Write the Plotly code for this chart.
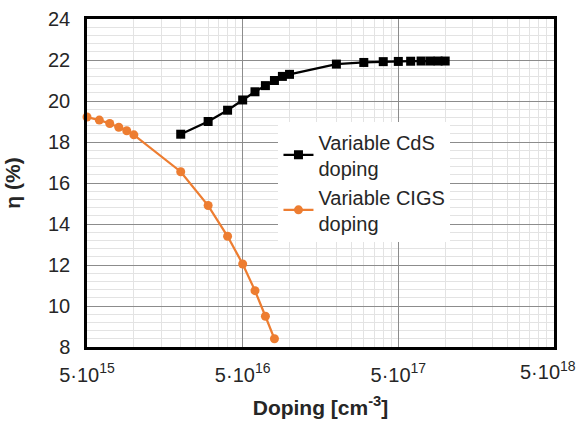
import math
import plotly.graph_objects as go

# Efficiency vs. doping for two buffer/absorber doping sweeps
cds_doping = [2e16, 3e16, 4e16, 5e16, 6e16, 7e16, 8e16, 9e16, 1e17,
              2e17, 3e17, 4e17, 5e17, 6e17, 7e17, 8e17, 9e17, 1e18]
cds_eta = [18.38, 19.0, 19.55, 20.05, 20.45, 20.75, 21.0, 21.2, 21.3,
           21.8, 21.88, 21.92, 21.93, 21.94, 21.95, 21.95, 21.95, 21.95]

cigs_doping = [5e15, 6e15, 7e15, 8e15, 9e15, 1e16, 2e16, 3e16, 4e16,
               5e16, 6e16, 7e16, 8e16]
cigs_eta = [19.22, 19.07, 18.9, 18.72, 18.55, 18.35, 16.55, 14.9, 13.4,
            12.05, 10.75, 9.5, 8.4]

x_tick_vals = [5e15, 5e16, 5e17, 5e18]
x_tick_text = ["5·10<sup>15</sup>", "5·10<sup>16</sup>",
               "5·10<sup>17</sup>", "5·10<sup>18</sup>"]
y_tick_vals = [8, 10, 12, 14, 16, 18, 20, 22, 24]

# minor grid: multiples of each major value within its decade
x_minor_vals = [v * k for v in x_tick_vals[:-1] for k in range(2, 10)]

# small pad so the end ticks stay inside the range
x_range = [math.log10(x_tick_vals[0]) - 1e-6, math.log10(x_tick_vals[-1]) + 1e-6]

FONT = "Arial, Liberation Sans, sans-serif"
TEXT = "#262626"
ORANGE = "#ED7D31"

fig = go.Figure()
fig.add_trace(go.Scatter(
    x=cds_doping, y=cds_eta, mode="lines+markers",
    name="Variable CdS<br>doping",
    line=dict(color="black", width=2.25),
    marker=dict(symbol="square", size=9, color="black"),
    cliponaxis=False,
))
fig.add_trace(go.Scatter(
    x=cigs_doping, y=cigs_eta, mode="lines+markers",
    name="Variable CIGS<br>doping",
    line=dict(color=ORANGE, width=2.25),
    marker=dict(symbol="circle", size=9, color=ORANGE),
    cliponaxis=False,
))

# the last tick label sits at the right edge; draw it right-aligned so it fits
fig.add_annotation(
    x=math.log10(x_tick_vals[-1]), xref="x", y=0, yref="paper",
    text=x_tick_text[-1], showarrow=False,
    xanchor="right", yanchor="top", xshift=24, yshift=-9,
    font=dict(family=FONT, size=20, color=TEXT),
)

fig.update_layout(
    width=580, height=423,
    margin=dict(l=87, r=26, t=19, b=76),
    paper_bgcolor="white", plot_bgcolor="white",
    font=dict(family=FONT, size=20, color=TEXT),
    legend=dict(
        x=0.41, y=0.685, xanchor="left", yanchor="top",
        bgcolor="white", borderwidth=0,
        font=dict(family=FONT, size=20, color=TEXT),
        itemwidth=30, tracegroupgap=4,
    ),
    xaxis=dict(
        type="log",
        range=x_range, automargin=False,
        tickmode="array", tickvals=x_tick_vals,
        ticktext=x_tick_text[:-1] + [""],
        ticks="", ticklabelstandoff=8,
        showgrid=True, gridcolor="#8c8c8c", gridwidth=1,
        minor=dict(tickmode="array", tickvals=x_minor_vals,
                   showgrid=True, gridcolor="#e3e3e3", gridwidth=1, ticks=""),
        showline=True, linecolor="black", linewidth=2.5, mirror=True,
        zeroline=False,
        title=dict(text="<b>Doping [cm<sup>-3</sup>]</b>", standoff=16,
                   font=dict(family=FONT, size=21, color=TEXT)),
    ),
    yaxis=dict(
        range=[8, 24], automargin=False,
        tickmode="array", tickvals=y_tick_vals,
        ticks="", ticklabelstandoff=10,
        showgrid=True, gridcolor="#8c8c8c", gridwidth=1,
        minor=dict(dtick=0.4, tick0=8, showgrid=True,
                   gridcolor="#e3e3e3", gridwidth=1, ticks=""),
        showline=True, linecolor="black", linewidth=2.5, mirror=True,
        zeroline=False,
        title=dict(text="<b>η (%)</b>", standoff=22,
                   font=dict(family=FONT, size=21, color=TEXT)),
    ),
)

fig.write_html("out.html")
